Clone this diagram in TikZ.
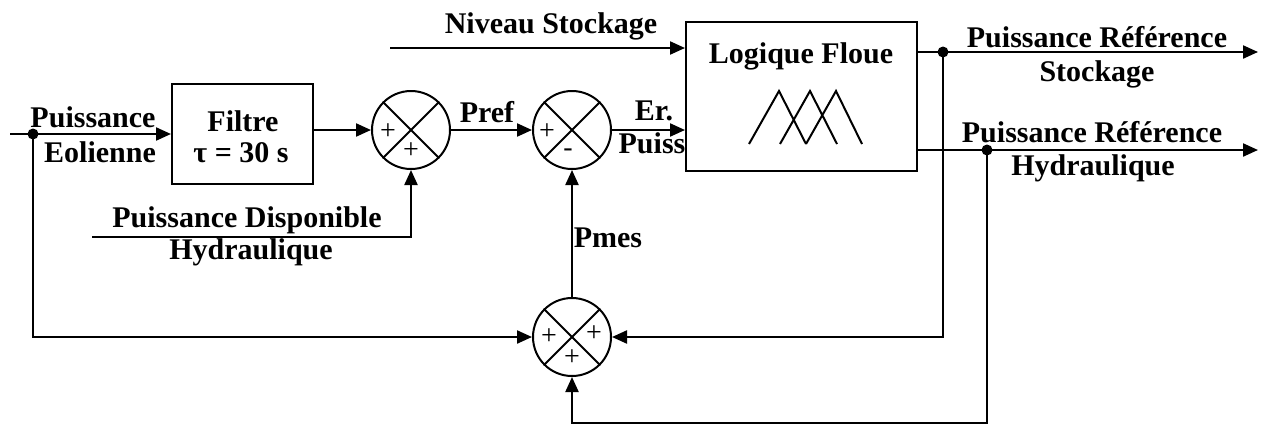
\documentclass[tikz,border=0pt]{standalone}
\usepackage{fontspec}
\setmainfont{Liberation Serif}
\usetikzlibrary{arrows.meta}
\begin{document}
\begin{tikzpicture}[x=1pt,y=-1pt, line width=2.2pt,
 lbl/.style={font=\fontsize{30}{34}\selectfont\bfseries, inner sep=0, anchor=base},
 sgn/.style={font=\fontsize{28}{30}\selectfont, inner sep=0},
 sumj/.style={circle, draw, minimum size=78pt, inner sep=0, line width=2pt},
 blk/.style={draw, inner sep=0, line width=2pt},
 arr/.style={-{Triangle[length=15pt,width=13pt]}},
 dot/.style={circle, fill, minimum size=11pt, inner sep=0}]
\useasboundingbox (0,0) rectangle (1268,426);
% blocks
\node[blk, minimum width=141pt, minimum height=100pt] (filt) at (242.5,134) {};
\node[blk, minimum width=231pt, minimum height=149pt] (fl) at (801.5,96.5) {};
\node[sumj] (s1) at (411,130) {};
\node[sumj] (s2) at (572,130) {};
\node[sumj] (s3) at (572,337) {};
\foreach \s in {s1,s2,s3} \draw[line width=2pt] (\s.45) -- (\s.225) (\s.135) -- (\s.315);
% signs
\node[sgn] (p1a) at (388,132) {+};
\node[sgn] (p1b) at (411,151) {+};
\node[sgn] (p2a) at (547,132) {+};
\node[sgn] (p2b) at (568,153) {-};
\node[sgn] (p3a) at (549,337) {+};
\node[sgn] (p3b) at (594,334) {+};
\node[sgn] (p3c) at (572,358) {+};
% fuzzy sets
\draw[line width=2pt] (749,144) -- (779,91) -- (806,144) (780,144) -- (810,91) -- (837,144) (806,144) -- (836,91) -- (862,144);
% coordinates and dots
\coordinate (in) at (10,134);
\node[dot] (d0) at (33,134) {};
\coordinate (ns) at (390,48);
\coordinate (o1) at (1258,52);
\coordinate (o2) at (1258,150);
\node[dot] (d1) at (943,52) {};
\node[dot] (d2) at (987,150) {};
\coordinate (bt) at (987,423);
\coordinate (pd) at (92,237);
% connectors
\draw[arr] (in) -- (filt.west);
\draw[arr] (s1.west -| filt.east) -- (s1.west);
\draw[arr] (s1) -- (s2);
\draw[arr] (s2) -- (s2 -| fl.west);
\draw[arr] (ns) -- (ns -| fl.west);
\draw[arr] (o1 -| fl.east) -- (o1);
\draw[arr] (o2 -| fl.east) -- (o2);
\draw[arr] (d1.center) |- (s3.east);
\draw[arr] (d2.center) -- (bt) -| (s3.south);
\draw[arr] (d0.center) |- (s3.west);
\draw[arr] (s3) -- (s2);
\draw[arr] (pd) -| (s1.south);
% labels
\node[lbl] (t1) at (93,127) {Puissance};
\node[lbl] (t2) at (100,162) {Eolienne};
\node[lbl] (t3) at (243,131) {Filtre};
\node[lbl] (t4) at (241,162) {τ = 30 s};
\node[lbl] (t5) at (487,122) {Pref};
\node[lbl] (t6) at (654,120) {Er.};
\node[lbl] (t7) at (652,153) {Puiss};
\node[lbl] (t8) at (551,33) {Niveau Stockage};
\node[lbl] (t9) at (801,63) {Logique Floue};
\node[lbl] (t10) at (1097,47) {Puissance Référence};
\node[lbl] (t11) at (1097,81) {Stockage};
\node[lbl] (t12) at (1092,142) {Puissance Référence};
\node[lbl] (t13) at (1093,175) {Hydraulique};
\node[lbl] (t14) at (247,227) {Puissance Disponible};
\node[lbl] (t15) at (251,259) {Hydraulique};
\node[lbl] (t16) at (608,247) {Pmes};
\end{tikzpicture}
\end{document}
